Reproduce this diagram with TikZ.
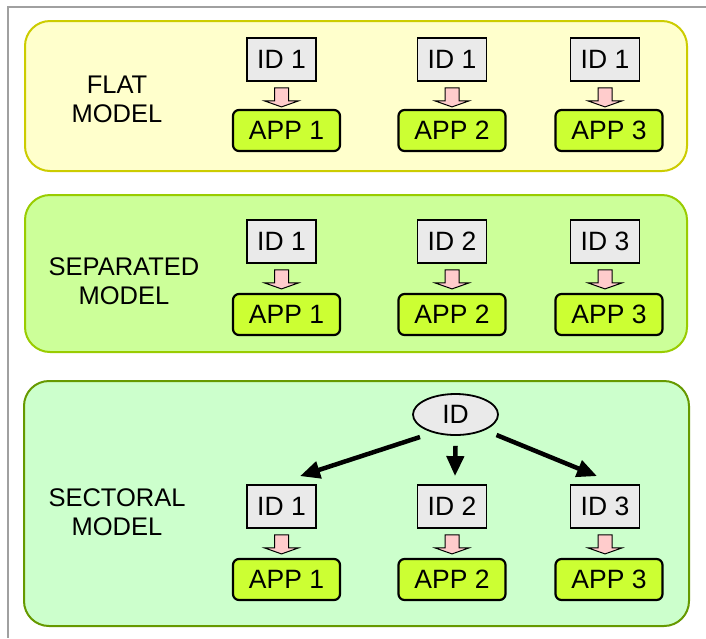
\documentclass[tikz,border=0pt]{standalone}
\usepackage{fontspec}
\setmainfont{Liberation Sans}
\usetikzlibrary{arrows.meta,calc,shapes.geometric}
\definecolor{framegray}{HTML}{A0A0A0}
\definecolor{pyfill}{HTML}{FFFFCC}
\definecolor{pyline}{HTML}{CCCC00}
\definecolor{pgfill}{HTML}{CCFF99}
\definecolor{pgline}{HTML}{99CC00}
\definecolor{pmfill}{HTML}{CCFFCC}
\definecolor{pmline}{HTML}{669900}
\definecolor{idgray}{HTML}{EAEAEA}
\definecolor{applime}{HTML}{CCFF33}
\definecolor{pinkfill}{HTML}{FFCCCC}
\newcommand\pinkarrow[1]{\draw[pinkarr, shift={(#1.south)}] (-7,6) -- (-7,19) -- (-17,19) -- (0,25) -- (17,19) -- (7,19) -- (7,6) -- cycle;}
\begin{document}
\begin{tikzpicture}[x=1pt,y=-1pt,
  panel/.style={rounded corners=25pt, line width=2pt},
  idbox/.style={draw, line width=1.8pt, fill=idgray, minimum width=69pt, minimum height=43pt, inner sep=0pt, font=\fontsize{26.5}{30}\selectfont},
  appbox/.style={draw, rounded corners=6pt, line width=2.2pt, fill=applime, minimum width=107pt, minimum height=41pt, inner sep=0pt, font=\fontsize{26.5}{30}\selectfont},
  lbl/.style={align=center, font=\fontsize{25.5}{29}\selectfont},
  pinkarr/.style={draw=black, line width=1pt, fill=pinkfill, line join=miter},
  bigarrow/.style={line width=4.5pt, -{Triangle[length=20pt,width=17pt]}}
]
\useasboundingbox (0,0) rectangle (706,638);
\fill[white] (0,0) rectangle (706,638);
\draw[framegray, line width=2pt] (706,7) -- (8,7) -- (8,638);

% panels
\draw[panel, draw=pyline, fill=pyfill] (25,21) rectangle (687,171);
\draw[panel, draw=pgline, fill=pgfill] (25,195) rectangle (687,352);
\draw[panel, draw=pmline, fill=pmfill] (24,381) rectangle (689,626);

% labels
\node[lbl] (l1) at (117,99) {FLAT\\MODEL};
\node[lbl] (l2) at (124,281) {SEPARATED\\MODEL};
\node[lbl] (l3) at (117,512) {SECTORAL\\MODEL};

% row 1
\node[idbox] (id11) at (281.5,59.5) {ID 1};
\node[idbox] (id12) at (452,59.5) {ID 1};
\node[idbox] (id13) at (605,59.5) {ID 1};
\node[appbox] (ap11) at (286.5,130.5) {APP 1};
\node[appbox] (ap12) at (452,130.5) {APP 2};
\node[appbox] (ap13) at (609,130.5) {APP 3};
\pinkarrow{id11}\pinkarrow{id12}\pinkarrow{id13}

% row 2
\node[idbox] (id21) at (281.5,241.5) {ID 1};
\node[idbox] (id22) at (452,241.5) {ID 2};
\node[idbox] (id23) at (605,241.5) {ID 3};
\node[appbox] (ap21) at (286.5,314.5) {APP 1};
\node[appbox] (ap22) at (452,314.5) {APP 2};
\node[appbox] (ap23) at (609,314.5) {APP 3};
\pinkarrow{id21}\pinkarrow{id22}\pinkarrow{id23}

% row 3
\node[ellipse, draw, line width=1.8pt, fill=idgray, minimum width=85pt, minimum height=41pt, inner sep=0pt, font=\fontsize{26.5}{30}\selectfont] (el) at (455.5,414.5) {ID};
\node[idbox] (id31) at (281.5,506.5) {ID 1};
\node[idbox] (id32) at (452,506.5) {ID 2};
\node[idbox] (id33) at (605,506.5) {ID 3};
\node[appbox] (ap31) at (286.5,579.5) {APP 1};
\node[appbox] (ap32) at (452,579.5) {APP 2};
\node[appbox] (ap33) at (609,579.5) {APP 3};
\pinkarrow{id31}\pinkarrow{id32}\pinkarrow{id33}

\draw[bigarrow] ($(el.center)+(-35.5,22.5)$) -- ($(id31.north)+(18.5,-8)$);
\draw[bigarrow] ($(el.south)+(0,10)$) -- ($(id32.north)+(3,-8)$);
\draw[bigarrow] ($(el.center)+(41,20.5)$) -- ($(id33.north)+(-8,-8)$);
\end{tikzpicture}
\end{document}
